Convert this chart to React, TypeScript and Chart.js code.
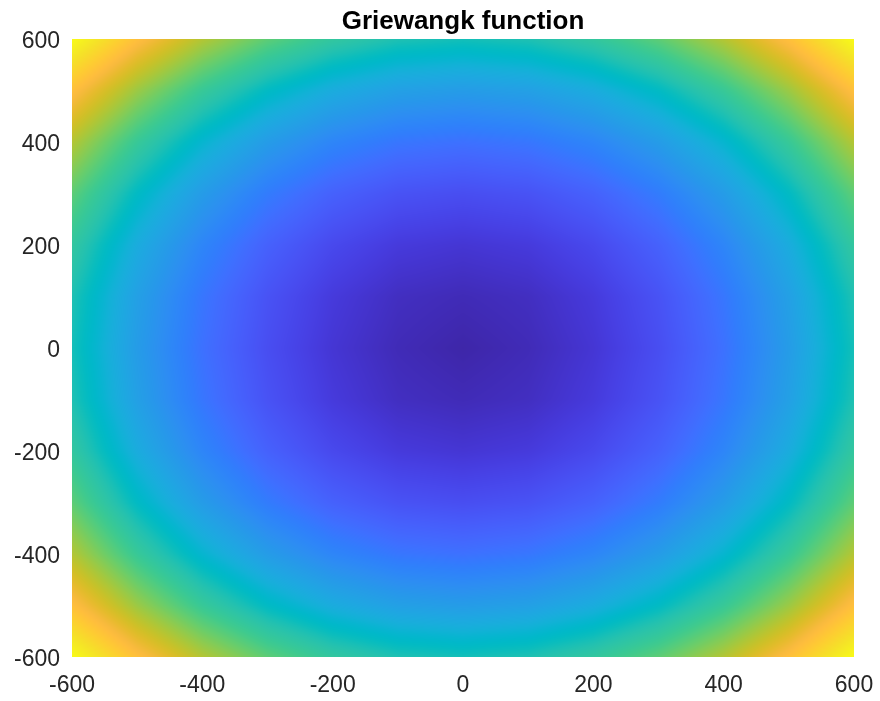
import { useEffect, useRef } from 'react';
import { Chart, registerables } from 'chart.js';

Chart.register(...registerables);

// Surface sampled on a 100-unit mesh (vertex values, ascending x and y).
const xGrid = [-600, -500, -400, -300, -200, -100, 0, 100, 200, 300, 400, 500, 600];
const yGrid = [-600, -500, -400, -300, -200, -100, 0, 100, 200, 300, 400, 500, 600];
const zGrid = [
  [181, 153.5, 131, 113.5, 101, 93.5, 91, 93.5, 101, 113.5, 131, 153.5, 181],
  [153.5, 126, 103.5, 86, 73.5, 66, 63.5, 66, 73.5, 86, 103.5, 126, 153.5],
  [131, 103.5, 81, 63.5, 51, 43.5, 41, 43.5, 51, 63.5, 81, 103.5, 131],
  [113.5, 86, 63.5, 46, 33.5, 26, 23.5, 26, 33.5, 46, 63.5, 86, 113.5],
  [101, 73.5, 51, 33.5, 21, 13.5, 11, 13.5, 21, 33.5, 51, 73.5, 101],
  [93.5, 66, 43.5, 26, 13.5, 6, 3.5, 6, 13.5, 26, 43.5, 66, 93.5],
  [91, 63.5, 41, 23.5, 11, 3.5, 0, 3.5, 11, 23.5, 41, 63.5, 91],
  [93.5, 66, 43.5, 26, 13.5, 6, 3.5, 6, 13.5, 26, 43.5, 66, 93.5],
  [101, 73.5, 51, 33.5, 21, 13.5, 11, 13.5, 21, 33.5, 51, 73.5, 101],
  [113.5, 86, 63.5, 46, 33.5, 26, 23.5, 26, 33.5, 46, 63.5, 86, 113.5],
  [131, 103.5, 81, 63.5, 51, 43.5, 41, 43.5, 51, 63.5, 81, 103.5, 131],
  [153.5, 126, 103.5, 86, 73.5, 66, 63.5, 66, 73.5, 86, 103.5, 126, 153.5],
  [181, 153.5, 131, 113.5, 101, 93.5, 91, 93.5, 101, 113.5, 131, 153.5, 181],
];

const xTicks = [-600, -400, -200, 0, 200, 400, 600];
const yTicks = [-600, -400, -200, 0, 200, 400, 600];
const titleText = 'Griewangk function';

// Parula colormap, 64 entries.
const parula: number[][] = [
  [0.2422, 0.1504, 0.6603], [0.2504, 0.1650, 0.7076], [0.2578, 0.1818, 0.7511], [0.2647, 0.1978, 0.7952],
  [0.2706, 0.2147, 0.8364], [0.2751, 0.2342, 0.8710], [0.2783, 0.2559, 0.8991], [0.2803, 0.2782, 0.9221],
  [0.2813, 0.3006, 0.9414], [0.2810, 0.3228, 0.9579], [0.2795, 0.3447, 0.9717], [0.2760, 0.3667, 0.9829],
  [0.2699, 0.3892, 0.9906], [0.2602, 0.4123, 0.9952], [0.2440, 0.4358, 0.9988], [0.2206, 0.4603, 0.9973],
  [0.1963, 0.4847, 0.9892], [0.1834, 0.5074, 0.9798], [0.1786, 0.5289, 0.9682], [0.1764, 0.5499, 0.9520],
  [0.1687, 0.5703, 0.9359], [0.1540, 0.5902, 0.9218], [0.1460, 0.6091, 0.9079], [0.1380, 0.6276, 0.8973],
  [0.1248, 0.6459, 0.8883], [0.1113, 0.6635, 0.8763], [0.0952, 0.6798, 0.8598], [0.0689, 0.6948, 0.8394],
  [0.0297, 0.7082, 0.8163], [0.0036, 0.7203, 0.7917], [0.0067, 0.7312, 0.7660], [0.0433, 0.7411, 0.7394],
  [0.0964, 0.7500, 0.7120], [0.1408, 0.7584, 0.6842], [0.1717, 0.7670, 0.6554], [0.1938, 0.7758, 0.6251],
  [0.2161, 0.7843, 0.5923], [0.2470, 0.7918, 0.5567], [0.2906, 0.7973, 0.5188], [0.3406, 0.8008, 0.4789],
  [0.3909, 0.8029, 0.4354], [0.4456, 0.8024, 0.3909], [0.5044, 0.7993, 0.3480], [0.5616, 0.7942, 0.3045],
  [0.6174, 0.7876, 0.2612], [0.6720, 0.7793, 0.2227], [0.7242, 0.7698, 0.1910], [0.7738, 0.7598, 0.1646],
  [0.8203, 0.7498, 0.1535], [0.8634, 0.7406, 0.1596], [0.9035, 0.7330, 0.1774], [0.9393, 0.7288, 0.2100],
  [0.9728, 0.7298, 0.2394], [0.9956, 0.7434, 0.2371], [0.9970, 0.7659, 0.2199], [0.9952, 0.7893, 0.2028],
  [0.9892, 0.8136, 0.1885], [0.9786, 0.8386, 0.1766], [0.9676, 0.8639, 0.1643], [0.9610, 0.8890, 0.1537],
  [0.9597, 0.9135, 0.1423], [0.9628, 0.9373, 0.1265], [0.9691, 0.9606, 0.1064], [0.9769, 0.9839, 0.0805],
];

const FONT = "'Liberation Sans', Arial, Helvetica, sans-serif";

function findCell(grid: number[], v: number): [number, number] {
  const n = grid.length;
  if (v <= grid[0]) return [0, 0];
  if (v >= grid[n - 1]) return [n - 2, 1];
  for (let i = 0; i < n - 1; i++) {
    if (v >= grid[i] && v <= grid[i + 1]) {
      return [i, (v - grid[i]) / (grid[i + 1] - grid[i])];
    }
  }
  return [n - 2, 1];
}

function mapColor(t: number, out: number[]) {
  const p = Math.min(1, Math.max(0, t)) * (parula.length - 1);
  const i = Math.min(parula.length - 2, Math.floor(p));
  const f = p - i;
  const a = parula[i];
  const b = parula[i + 1];
  out[0] = (a[0] + (b[0] - a[0]) * f) * 255;
  out[1] = (a[1] + (b[1] - a[1]) * f) * 255;
  out[2] = (a[2] + (b[2] - a[2]) * f) * 255;
}

// Interpolated shading of the mesh, placed through the chart's x/y scales.
const surfacePlugin = {
  id: 'surfaceShading',
  beforeDatasetsDraw(chart: any) {
    const { ctx, chartArea } = chart;
    const xs = chart.scales.x;
    const ys = chart.scales.y;
    let zMin = Infinity;
    let zMax = -Infinity;
    zGrid.forEach((row) => row.forEach((v) => { zMin = Math.min(zMin, v); zMax = Math.max(zMax, v); }));

    const left = Math.round(xs.getPixelForValue(xGrid[0]));
    const right = Math.round(xs.getPixelForValue(xGrid[xGrid.length - 1]));
    const top = Math.round(ys.getPixelForValue(yGrid[yGrid.length - 1]));
    const bottom = Math.round(ys.getPixelForValue(yGrid[0]));
    const w = right - left;
    const h = bottom - top;
    if (w <= 0 || h <= 0) return;

    const off = document.createElement('canvas');
    off.width = w;
    off.height = h;
    const octx = off.getContext('2d')!;
    const img = octx.createImageData(w, h);
    const rgb = [0, 0, 0];
    const colCells = [] as [number, number][];
    for (let px = 0; px < w; px++) colCells.push(findCell(xGrid, xs.getValueForPixel(left + px + 0.5)));
    for (let py = 0; py < h; py++) {
      const [j, fy] = findCell(yGrid, ys.getValueForPixel(top + py + 0.5));
      const r0 = zGrid[j];
      const r1 = zGrid[j + 1];
      for (let px = 0; px < w; px++) {
        const [i, fx] = colCells[px];
        const v0 = r0[i] + (r0[i + 1] - r0[i]) * fx;
        const v1 = r1[i] + (r1[i + 1] - r1[i]) * fx;
        const v = v0 + (v1 - v0) * fy;
        mapColor((v - zMin) / (zMax - zMin), rgb);
        const k = (py * w + px) * 4;
        img.data[k] = rgb[0];
        img.data[k + 1] = rgb[1];
        img.data[k + 2] = rgb[2];
        img.data[k + 3] = 255;
      }
    }
    octx.putImageData(img, 0, 0);
    ctx.save();
    ctx.beginPath();
    ctx.rect(chartArea.left, chartArea.top, chartArea.right - chartArea.left, chartArea.bottom - chartArea.top);
    ctx.clip();
    ctx.drawImage(off, left, top);
    ctx.restore();
  },
};

const titlePlugin = {
  id: 'plotTitle',
  afterDraw(chart: any) {
    const { ctx, chartArea } = chart;
    ctx.save();
    ctx.fillStyle = '#000000';
    ctx.font = `bold 26px ${FONT}`;
    ctx.textAlign = 'center';
    ctx.textBaseline = 'alphabetic';
    ctx.fillText(titleText, (chartArea.left + chartArea.right) / 2, 29);
    ctx.restore();
  },
};

export default function App() {
  const canvasRef = useRef<HTMLCanvasElement | null>(null);

  useEffect(() => {
    if (!canvasRef.current) return;
    const points: { x: number; y: number }[] = [];
    yGrid.forEach((y) => xGrid.forEach((x) => points.push({ x, y })));

    const tickFont = { family: FONT, size: 23 };
    const chart = new Chart(canvasRef.current, {
      type: 'scatter',
      data: {
        datasets: [
          {
            label: titleText,
            data: points,
            pointRadius: 0,
            pointHoverRadius: 0,
            showLine: false,
          },
        ],
      },
      options: {
        responsive: false,
        animation: false,
        events: [],
        layout: { padding: { top: 39, right: 26, left: 0, bottom: 0 } },
        plugins: {
          legend: { display: false },
          title: { display: false },
          tooltip: { enabled: false },
        },
        scales: {
          x: {
            type: 'linear',
            min: -600,
            max: 600,
            afterBuildTicks: (axis: any) => {
              axis.ticks = xTicks.map((value) => ({ value }));
            },
            afterFit: (axis: any) => {
              axis.height = 44;
              axis.paddingLeft = 0;
              axis.paddingRight = 0;
            },
            grid: { display: false, drawTicks: false },
            border: { display: false },
            ticks: { font: tickFont, color: '#262626', padding: 15, maxRotation: 0, autoSkip: false },
          },
          y: {
            type: 'linear',
            min: -600,
            max: 600,
            afterBuildTicks: (axis: any) => {
              axis.ticks = yTicks.map((value) => ({ value }));
            },
            afterFit: (axis: any) => {
              axis.width = 72;
              axis.paddingTop = 0;
              axis.paddingBottom = 0;
            },
            grid: { display: false, drawTicks: false },
            border: { display: false },
            ticks: { font: tickFont, color: '#262626', padding: 12, autoSkip: false, labelOffset: 3 },
          },
        },
      },
      plugins: [surfacePlugin, titlePlugin],
    });
    return () => chart.destroy();
  }, []);

  return (
    <div style={{ position: 'absolute', left: 0, top: 0, width: 880, height: 701, background: '#ffffff' }}>
      <canvas ref={canvasRef} width={880} height={701} />
    </div>
  );
}
